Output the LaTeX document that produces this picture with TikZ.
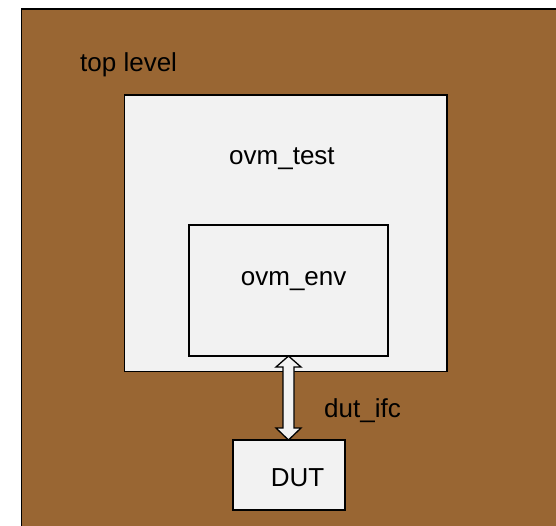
\documentclass[tikz,border=0pt]{standalone}
\usepackage{fontspec}
\setmainfont{Liberation Sans}
\usetikzlibrary{calc}
\definecolor{brownbg}{RGB}{153,102,51}
\definecolor{boxfill}{RGB}{242,242,242}
\begin{document}
\begin{tikzpicture}[x=1pt,y=-1pt,
  box/.style={draw=black,line width=1.6pt,fill=boxfill,anchor=north west,inner sep=0pt,outer sep=0pt},
  lbl/.style={anchor=base west,inner sep=0pt,font=\fontsize{26}{30}\selectfont},
  blockarrow/.style={draw=black,line width=1.3pt,fill=boxfill,line join=miter}]
\useasboundingbox (0,0) rectangle (556,525);
\clip (0,0) rectangle (556,525);
\node[box, fill=brownbg, minimum width=560pt, minimum height=540pt] (toplevel) at (21.5,9) {};
\node[box, minimum width=322.5pt, minimum height=276.5pt] (test) at (124.5,95) {};
\node[box, minimum width=199pt, minimum height=131pt] (env) at (189,225) {};
\node[box, minimum width=112pt, minimum height=70pt] (dut) at (233,440) {};
\path (env.south) coordinate (A) (env.south |- dut.north) coordinate (B);
\draw[blockarrow] (A) -- ($(A)+(12.5,11)$) -- ($(A)+(5.5,11)$) -- ($(B)+(5.5,-12)$) -- ($(B)+(12.5,-12)$) -- (B) -- ($(B)+(-12.5,-12)$) -- ($(B)+(-5.5,-12)$) -- ($(A)+(-5.5,11)$) -- ($(A)+(-12.5,11)$) -- cycle;
\node[lbl] (ttop) at (80,71) {top level};
\node[lbl] (ttest) at (229,164.3) {ovm\_test};
\node[lbl] (tenv) at (240.7,285) {ovm\_env};
\node[lbl] (tifc) at (324,417.3) {dut\_ifc};
\node[lbl] (tdut) at (270.7,486.7) {DUT};
\end{tikzpicture}
\end{document}
